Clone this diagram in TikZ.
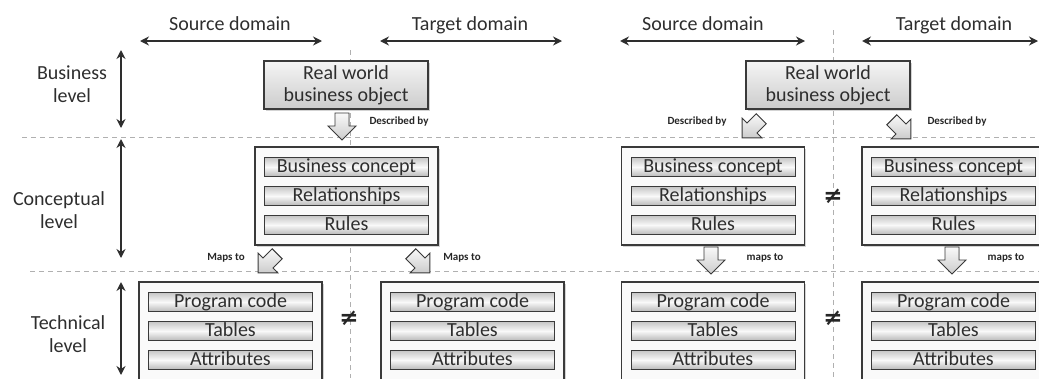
\documentclass[tikz,border=0pt]{standalone}
\usepackage{fontspec}
\setmainfont{Carlito}
\newfontfamily\glyphfont{DejaVu Sans}
\usetikzlibrary{arrows.meta,shadows,calc}

\definecolor{ink}{HTML}{2E2E2E}
\definecolor{edge}{HTML}{3A3A3A}
\definecolor{guide}{HTML}{B0B0B0}

% block arrow centred on #1, turned by #2 (0 = pointing down)
\newcommand\blockarrow[2]{%
  \begin{scope}[shift={#1}, rotate=#2]
    \filldraw[arrowbody] (-7,-13) -- (7,-13) -- (7,0) -- (14,0) -- (0,14)
      -- (-14,0) -- (-7,0) -- cycle;
  \end{scope}}

\begin{document}
\begin{tikzpicture}[x=1pt,y=-1pt,
  every node/.style={text=ink, font=\fontsize{20}{23}\selectfont},
  span/.style={line width=2pt, draw=ink,
    {Stealth[length=9pt,width=9pt]}-{Stealth[length=9pt,width=9pt]}},
  guideline/.style={draw=guide, line width=0.8pt, dash pattern=on 5pt off 4pt},
  container/.style={draw=edge, line width=1.1pt, fill=gray!4,
    minimum width=183pt, minimum height=98pt, inner sep=0pt,
    drop shadow={shadow xshift=1.5pt, shadow yshift=-1.5pt, opacity=0.35}},
  row/.style={draw=edge, line width=1pt, top color=gray!45, bottom color=gray!55,
    middle color=gray!5, minimum width=164pt, minimum height=19pt,
    inner sep=0pt, text height=13pt, text depth=3pt},
  objbox/.style={draw=edge, line width=1.1pt, top color=gray!8, bottom color=gray!40,
    minimum width=164pt, minimum height=48pt, inner sep=0pt, align=center,
    font=\fontsize{20}{22}\selectfont,
    drop shadow={shadow xshift=1.5pt, shadow yshift=-1.5pt, opacity=0.35}},
  arrowbody/.style={draw=edge, line width=0.9pt, top color=gray!5, bottom color=gray!40,
    line join=miter},
  lvl/.style={align=center},
  tag/.style={font=\fontsize{11}{11}\selectfont\bfseries, text=black!85},
  unequal/.style={font=\fontsize{23}{23}\selectfont\glyphfont\bfseries, text=black!85},
]
\useasboundingbox (0,0) rectangle (1039,378);
\clip (0,0) rectangle (1039,378);

% guide lines between levels and domains
\draw[guideline] (22,137) -- (1039,137);
\draw[guideline] (30,271) -- (1039,271);
\draw[guideline] (350,50) -- (350,378);
\draw[guideline] (833,30) -- (833,378);

% domain headers
\node[anchor=base] (hs1) at (230,30) {Source domain};
\node[anchor=base] (ht1) at (470,30) {Target domain};
\node[anchor=base] (hs2) at (703,30) {Source domain};
\node[anchor=base] (ht2) at (954,30) {Target domain};
\coordinate (s1a) at (140,41); \coordinate (s1b) at (322,41);
\coordinate (t1a) at (380,41); \coordinate (t1b) at (562,41);
\coordinate (s2a) at (620,41); \coordinate (s2b) at (805,41);
\coordinate (t2a) at (862,41); \coordinate (t2b) at (1038,41);
\draw[span] (s1a) -- (s1b);
\draw[span] (t1a) -- (t1b);
\draw[span] (s2a) -- (s2b);
\draw[span] (t2a) -- (t2b);

% level labels and their extents
\node[lvl] (lb) at (72,84) {Business\\level};
\node[lvl] (lc) at (59,210) {Conceptual\\level};
\node[lvl] (lt) at (68,334) {Technical\\level};
\coordinate (b1) at (121,50);  \coordinate (b2) at (121,128);
\coordinate (c1) at (121,139); \coordinate (c2) at (121,258);
\coordinate (k1) at (121,282); \coordinate (k2) at (121,375);
\draw[span] (b1) -- (b2);
\draw[span] (c1) -- (c2);
\draw[span] (k1) -- (k2);

% business objects
\node[objbox] (obj1) at (346,85) {Real world\\business object};
\node[objbox] (obj2) at (828,85) {Real world\\business object};

% conceptual models
\foreach \n/\x in {cm1/346.5, cm2/713, cm3/953.5}{
  \node[container] (\n) at (\x,196) {};
  \node[row] (\n-a) at ($(\n)+(0,-29)$) {Business concept};
  \node[row] (\n-b) at (\n) {Relationships};
  \node[row] (\n-c) at ($(\n)+(0,29)$) {Rules};
}

% technical models
\foreach \n/\x in {tm1/230.5, tm2/472.5, tm3/713, tm4/953.5}{
  \node[container] (\n) at (\x,331) {};
  \node[row] (\n-a) at ($(\n)+(0,-29)$) {Program code};
  \node[row] (\n-b) at (\n) {Tables};
  \node[row] (\n-c) at ($(\n)+(0,29)$) {Attributes};
}

% relations between the levels
\blockarrow{(342,126)}{0}
\blockarrow{(752,128)}{-45}
\blockarrow{(901,129)}{45}
\blockarrow{(268,263)}{-45}
\blockarrow{(420,263)}{45}
\blockarrow{(711,260)}{0}
\blockarrow{(952,260)}{0}

\node[tag] at (399,122) {Described by};
\node[tag] at (697,122) {Described by};
\node[tag] at (957,122) {Described by};
\node[tag] at (226,258) {Maps to};
\node[tag] at (462,258) {Maps to};
\node[tag] at (765,258) {maps to};
\node[tag] at (1006,258) {maps to};

% inequalities
\node[unequal] at (349,318) {≠};
\node[unequal] at (833,318) {≠};
\node[unequal] at (833,196) {≠};
\end{tikzpicture}
\end{document}
